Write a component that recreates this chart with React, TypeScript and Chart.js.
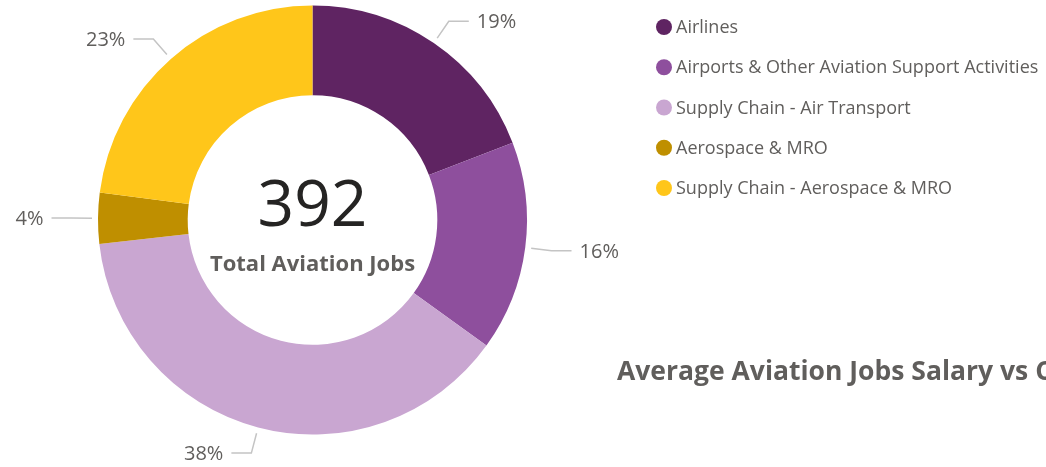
import React, { useEffect, useRef } from "react";
import { Chart, registerables } from "chart.js";

Chart.register(...registerables);

const categories = [
  "Airlines",
  "Airports & Other Aviation Support Activities",
  "Supply Chain - Air Transport",
  "Aerospace & MRO",
  "Supply Chain - Aerospace & MRO",
];
const jobCounts = [75, 62, 150, 15, 90];
const sliceColors = ["#5F2462", "#8E4F9D", "#C9A6D1", "#BF8F00", "#FFC61A"];
const centerCaption = "Total Aviation Jobs";
const sectionTitle = "Average Aviation Jobs Salary vs C";

const FONT = "'Open Sans', 'Noto Sans', sans-serif";
const GRAY = "#605E5C";

const overlayPlugin = {
  id: "overlay",
  afterDraw(chart: any) {
    const ctx = chart.ctx as CanvasRenderingContext2D;
    const meta = chart.getDatasetMeta(0);
    const values: number[] = chart.data.datasets[0].data;
    const total = values.reduce((a, b) => a + b, 0);
    let cx = 0;
    ctx.save();
    meta.data.forEach((arc: any, i: number) => {
      const p = arc.getProps(["x", "y", "startAngle", "endAngle", "outerRadius"], true);
      cx = p.x;
      const mid = (p.startAngle + p.endAngle) / 2;
      const c = Math.cos(mid);
      const s = Math.sin(mid);
      const r1 = p.outerRadius + 6;
      const r2 = p.outerRadius + 26.5;
      const x1 = p.x + c * r1;
      const y1 = p.y + s * r1;
      const x2 = p.x + c * r2;
      const y2 = p.y + s * r2;
      const right = c >= 0;
      const x3 = x2 + (right ? 20 : -20);
      ctx.strokeStyle = "#C4C4C4";
      ctx.lineWidth = 1.5;
      ctx.beginPath();
      ctx.moveTo(x1, y1);
      ctx.lineTo(x2, y2);
      ctx.lineTo(x3, y2);
      ctx.stroke();
      ctx.fillStyle = GRAY;
      ctx.font = `20px ${FONT}`;
      ctx.textAlign = right ? "left" : "right";
      ctx.textBaseline = "middle";
      const pct = Math.round((values[i] / total) * 100) + "%";
      ctx.fillText(pct, x3 + (right ? 8 : -8), y2 + 1);
    });

    // center text
    ctx.textAlign = "center";
    ctx.textBaseline = "alphabetic";
    ctx.fillStyle = "#252423";
    ctx.font = `64px ${FONT}`;
    ctx.fillText(String(total), cx, 226);
    ctx.fillStyle = GRAY;
    ctx.font = `bold 22px ${FONT}`;
    ctx.fillText(centerCaption, cx, 271);

    // legend
    const labels: string[] = chart.data.labels;
    const colors: string[] = chart.data.datasets[0].backgroundColor;
    labels.forEach((lab, i) => {
      const ly = 27 + i * 40.25;
      ctx.fillStyle = colors[i];
      ctx.beginPath();
      ctx.arc(664, ly, 8, 0, Math.PI * 2);
      ctx.fill();
      ctx.fillStyle = GRAY;
      ctx.font = `18px ${FONT}`;
      ctx.textAlign = "left";
      ctx.textBaseline = "middle";
      ctx.fillText(lab, 676, ly + 1);
    });

    // section title
    ctx.fillStyle = GRAY;
    ctx.font = `bold 26.5px ${FONT}`;
    ctx.textAlign = "left";
    ctx.textBaseline = "alphabetic";
    ctx.fillText(sectionTitle, 617, 380);
    ctx.restore();
  },
};

export default function App() {
  const ref = useRef<HTMLCanvasElement | null>(null);
  useEffect(() => {
    if (!ref.current) return;
    const chart = new Chart(ref.current, {
      type: "doughnut",
      data: {
        labels: categories,
        datasets: [
          {
            data: jobCounts,
            backgroundColor: sliceColors,
            borderWidth: 0,
            hoverOffset: 0,
          },
        ],
      },
      options: {
        responsive: false,
        devicePixelRatio: 1,
        animation: false,
        radius: 214.5,
        cutout: 128,
        layout: { padding: { left: 0, top: 0, right: 421, bottom: 27 } },
        plugins: {
          legend: { display: false },
          tooltip: { enabled: false },
        },
        events: [],
      } as any,
      plugins: [overlayPlugin],
    });
    return () => chart.destroy();
  }, []);
  return (
    <div style={{ position: "fixed", left: 0, top: 0, width: 1046, height: 467, background: "#fff" }}>
      <canvas ref={ref} width={1046} height={467} style={{ display: "block" }} />
    </div>
  );
}
